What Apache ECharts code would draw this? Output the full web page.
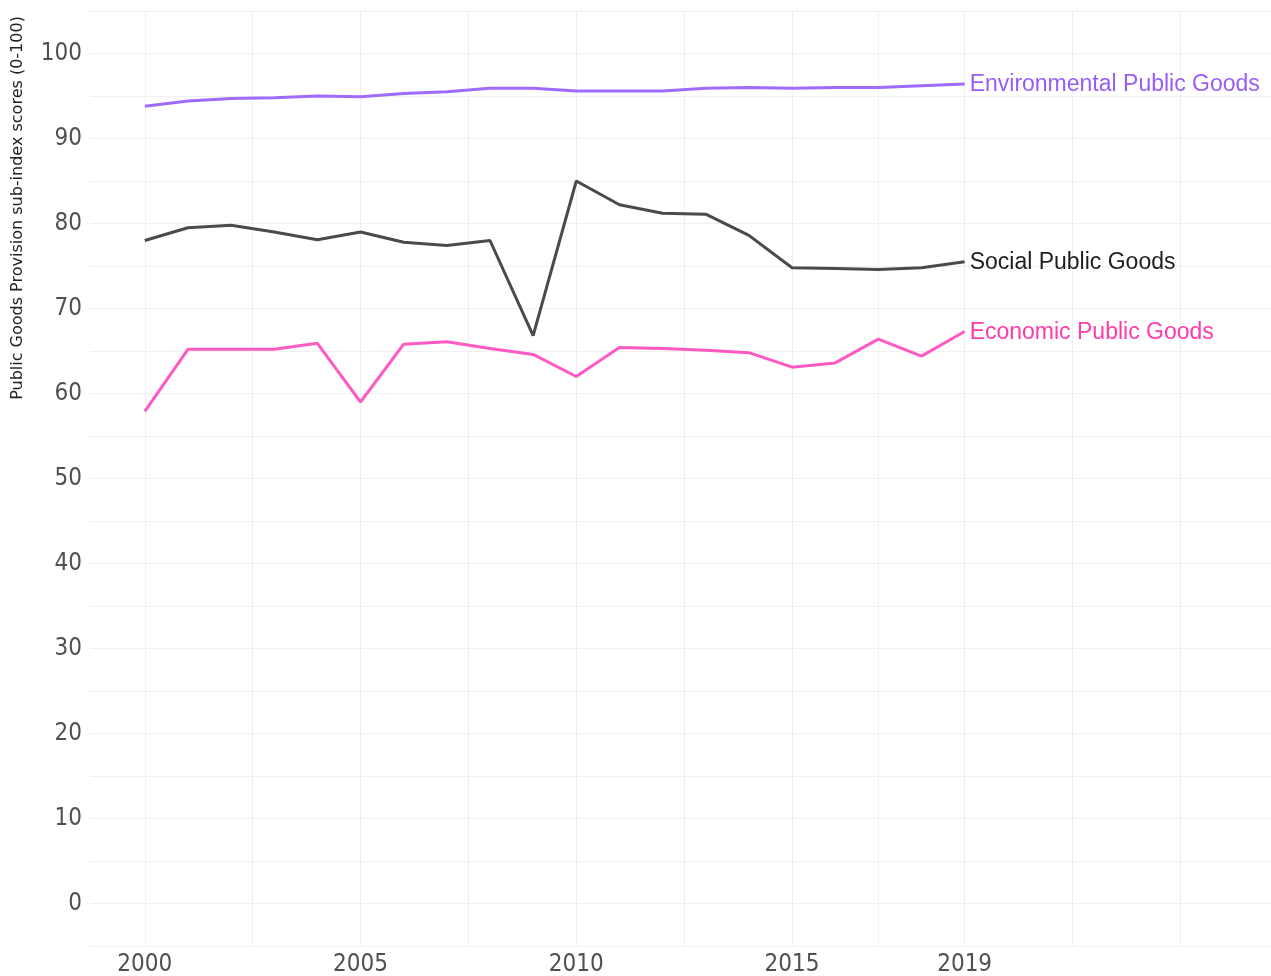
<!DOCTYPE html>
<html>
<head>
<meta charset="utf-8">
<script src="https://cdn.jsdelivr.net/npm/echarts@6/dist/echarts.min.js"></script>
<style>
html,body{margin:0;padding:0;background:#fff;}
#chart{width:1271px;height:976px;}
</style>
</head>
<body>
<div id="chart"></div>
<script>
const years = [2000,2001,2002,2003,2004,2005,2006,2007,2008,2009,2010,2011,2012,2013,2014,2015,2016,2017,2018,2019];
const environmental = [93.8,94.4,94.7,94.8,95.0,94.9,95.3,95.5,95.9,95.9,95.6,95.6,95.6,95.9,96.0,95.9,96.0,96.0,96.2,96.4];
const social = [78.0,79.5,79.8,79.0,78.1,79.0,77.8,77.4,78.0,66.8,85.0,82.2,81.2,81.1,78.6,74.8,74.7,74.6,74.8,75.5];
const economic = [57.9,65.2,65.2,65.2,65.9,59.0,65.8,66.1,65.3,64.6,62.0,65.4,65.3,65.1,64.8,63.1,63.6,66.4,64.4,67.3];
const seriesNames = ['Environmental Public Goods','Social Public Goods','Economic Public Goods'];
const xTickLabels = [2000,2005,2010,2015,2019];
const xGridValues = [2000,2002.5,2005,2007.5,2010,2012.5,2015,2017,2019,2021.5,2024];
const yTitle = 'Public Goods Provision sub-index scores (0-100)';

const chart = echarts.init(document.getElementById('chart'), null, {renderer:'canvas'});
const toPts = arr => years.map((y,i)=>[y, arr[i]]);
const lineColors = ['#a06bff','#4a4a4a','#ff5ac4'];
const labelColors = ['#9a5cf7','#1e1e1e','#ff3aa9'];
const dataSets = [environmental, social, economic];

const series = dataSets.map((d,i)=>({
  name: seriesNames[i],
  type: 'line',
  data: toPts(d),
  symbol: 'none',
  z: 10,
  lineStyle: {color: lineColors[i], width: 3},
  itemStyle: {color: lineColors[i]},
  endLabel: {
    show: true,
    formatter: p => p.seriesName,
    color: labelColors[i],
    fontFamily: 'Liberation Sans, Arial, sans-serif',
    fontSize: 23,
    distance: 5,
    offset: [0, 1]
  }
}));
series.unshift({
  type: 'line',
  data: [],
  silent: true,
  z: 1,
  markLine: {
    silent: true,
    z: 1,
    symbol: 'none',
    label: {show:false},
    emphasis: {disabled: true},
    lineStyle: {color:'#f0f0f0', width:1, type:'solid'},
    data: xGridValues.map(v=>({xAxis: v}))
  }
});

chart.setOption({
  animation: false,
  backgroundColor: '#ffffff',
  grid: {left: 90, right: 0, top: 11, bottom: 30, containLabel: false, outerBoundsMode: 'none'},
  xAxis: {
    type: 'value',
    min: 1998.73,
    max: 2026.1,
    axisLine: {show:false},
    axisTick: {show:false},
    splitLine: {show:false},
    axisLabel: {
      customValues: xTickLabels,
      formatter: v => String(v),
      color: '#505050',
      fontFamily: 'DejaVu Sans Condensed, DejaVu Sans, sans-serif',
      fontSize: 24,
      margin: 7
    }
  },
  yAxis: {
    type: 'value',
    min: -5,
    max: 105,
    interval: 5,
    axisLine: {show:false},
    axisTick: {show:false},
    splitLine: {show:true, lineStyle:{color:'#f0f0f0', width:1}},
    axisLabel: {
      formatter: v => (v % 10 === 0 && v >= 0 && v <= 100) ? String(v) : '',
      color: '#505050',
      fontFamily: 'DejaVu Sans Condensed, DejaVu Sans, sans-serif',
      fontSize: 24,
      margin: 8,
      padding: [4, 0, 0, 0]
    }
  },
  graphic: [{
    type: 'text',
    x: 18,
    y: 208,
    rotation: Math.PI/2,
    style: {
      text: yTitle,
      fill: '#222',
      font: '16px "DejaVu Sans", sans-serif',
      textAlign: 'center',
      textVerticalAlign: 'middle'
    }
  }],
  series: series
});
</script>
</body>
</html>
